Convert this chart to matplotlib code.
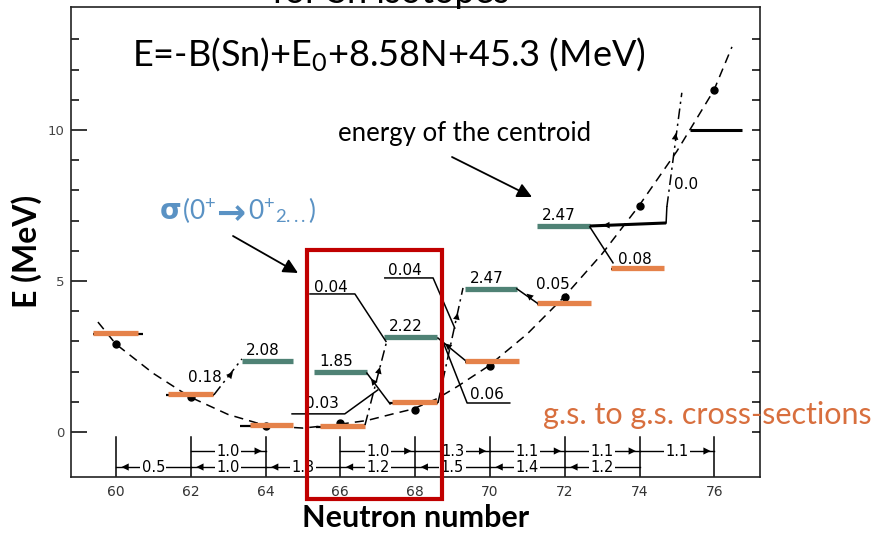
import matplotlib.pyplot as plt
from matplotlib.patches import Rectangle

W, H = 883, 536

# ground state levels (orange): left N, right N, energy (MeV)
gs_left = [59.39, 61.39, 63.58, 65.45, 67.38, 69.33, 71.26, 73.24]
gs_right = [60.59, 62.59, 64.73, 66.66, 68.58, 70.78, 72.70, 74.65]
gs_E = [3.28, 1.26, 0.23, 0.20, 0.99, 2.35, 4.27, 5.43]
gs_black_left = [59.39, 61.35, 63.32, 65.35, 67.30, 69.33, 71.26, 73.24]
gs_black_right = [60.72, 62.62, 64.73, 66.66, 68.61, 70.78, 72.70, 74.65]

# excited 0+ levels (green)
exc_left = [63.37, 65.29, 67.17, 69.33, 71.26]
exc_right = [64.73, 66.71, 68.58, 70.72, 72.67]
exc_E = [2.35, 1.99, 3.15, 4.74, 6.82]
exc_labels = ['2.08', '1.85', '2.22', '2.47', '2.47']

# cross-section labels
xs_labels = ['0.18', '0.04', '0.03', '0.04', '0.06', '0.05', '0.08', '0.0']
xs_N = [62.38, 65.75, 65.51, 67.73, 69.92, 71.68, 73.88, 75.24]
xs_E = [1.79, 4.80, 0.93, 5.36, 1.23, 4.87, 5.70, 8.21]

# solid connector lines
links = [
    ([65.19, 66.39, 67.22], [4.57, 4.57, 3.00]),
    ([64.71, 66.12, 67.00], [0.60, 0.60, 1.39]),
    ([67.19, 68.48, 69.06], [5.10, 5.10, 3.44]),
    ([68.72, 69.39, 70.53], [3.07, 0.96, 0.96]),
    ([70.72, 71.26], [4.74, 4.27]),
    ([72.67, 73.29], [6.79, 5.60]),
    ([66.71, 67.33], [1.95, 0.93]),
    ([68.61, 69.33], [3.11, 2.38]),
    ([74.71, 74.73], [6.92, 7.45]),
]
# thick black levels
thick = [([72.67, 74.71], [6.82, 6.92]), ([75.35, 76.74], [10.0, 10.0])]

# dash-dot transitions (start N, start E, end N, end E, arrow N, arrow E)
dd = [
    (62.62, 1.23, 63.37, 2.42, 63.13, 1.99),
    (66.66, 0.23, 67.25, 3.05, 67.06, 2.15),
    (68.61, 0.96, 69.28, 4.77, 69.14, 3.94),
    (74.73, 7.45, 75.13, 11.23, 74.97, 9.90),
]
# extra arrow heads on solid lines (from N, from E, tip N, tip E)
heads = [
    (67.33, 0.93, 66.82, 1.77),
    (69.33, 2.38, 68.80, 2.93),
    (71.26, 4.27, 70.98, 4.58),
    (74.71, 6.92, 73.02, 6.84),
]

# dashed curve and dots
curve_N = [59.52, 60.0, 61.0, 61.98, 63.0, 64.04, 65.0, 65.94, 66.71, 67.41, 67.94,
           68.58, 69.12, 69.97, 71.0, 71.98, 73.0, 73.98, 75.0, 75.99, 76.47]
curve_E = [3.64, 2.91, 1.94, 1.16, 0.58, 0.20, 0.13, 0.25, 0.38, 0.60, 0.76,
           1.10, 1.50, 2.19, 3.25, 4.47, 5.90, 7.48, 9.30, 11.32, 12.75]
dot_N = [60, 62, 64, 66, 68, 70, 72, 74, 76]
dot_E = [2.91, 1.16, 0.20, 0.30, 0.73, 2.19, 4.47, 7.48, 11.32]

# separation-energy rows at the bottom
hi_from = [62, 66, 68, 70, 72, 74]
hi_to = [64, 68, 70, 72, 74, 76]
hi_lab = ['1.0', '1.0', '1.3', '1.1', '1.1', '1.1']
lo_from = [62, 64, 66, 68, 70, 72, 74]
lo_to = [60, 62, 64, 66, 68, 70, 72]
lo_lab = ['0.5', '1.0', '1.3', '1.2', '1.5', '1.4', '1.2']
row_hi, row_lo = -0.63, -1.16

orange = '#e5824a'
orange_txt = '#d86f3e'
green = '#4f8275'
blue = '#5a92c4'

plt.rcParams['font.family'] = ['DejaVu Sans']
plt.rcParams['mathtext.fontset'] = 'custom'
plt.rcParams['mathtext.rm'] = 'Lato'
plt.rcParams['mathtext.it'] = 'Lato:italic'
plt.rcParams['mathtext.bf'] = 'Lato:bold'

fig = plt.figure(figsize=(W / 100, H / 100), dpi=100)
ax = fig.add_axes([71 / W, 1 - 477 / H, 689 / W, 470 / H])
ax.set_xlim(58.80, 77.22)
ax.set_ylim(-1.49, 14.07)

for s in ax.spines.values():
    s.set_linewidth(1.2)
    s.set_color('#222')
ax.set_xticks(range(60, 77, 2))
ax.tick_params(axis='x', length=0, pad=6, labelsize=10, labelcolor='#333')
ax.set_yticks([0, 5, 10])
ax.set_yticks(range(1, 14), minor=True)
ax.tick_params(axis='y', which='major', direction='in', length=11.5, width=1.1,
               pad=5, labelsize=9.5, labelcolor='#444')
ax.tick_params(axis='y', which='minor', direction='in', length=5.8, width=1.1)
ax2 = ax.twinx()
ax2.set_ylim(ax.get_ylim())
ax2.set_yticks(range(0, 14))
ax2.tick_params(direction='in', length=5.8, width=1.1, labelright=False)
for s in ax2.spines.values():
    s.set_visible(False)


def head(x0, y0, x1, y1, ms=12):
    ax.annotate('', xy=(x1, y1), xytext=(x0, y0),
                arrowprops=dict(arrowstyle='-|>', color='k', lw=0, mutation_scale=ms,
                                shrinkA=0, shrinkB=0))


# dashed curve
ax.plot(curve_N, curve_E, color='k', lw=1.1, ls=(0, (6, 4)))
ax.plot(dot_N, dot_E, 'o', color='k', ms=5)

# levels
for l, r, e in zip(gs_black_left, gs_black_right, gs_E):
    ax.plot([l, r], [e - 0.03, e - 0.03], color='k', lw=1.6, solid_capstyle='butt')
for l, r, e in zip(gs_left, gs_right, gs_E):
    ax.plot([l, r], [e, e], color=orange, lw=3.8, solid_capstyle='butt')
for l, r, e, lab in zip(exc_left, exc_right, exc_E, exc_labels):
    ax.plot([l, r], [e, e], color=green, lw=3.8, solid_capstyle='butt')
    ax.text((l + r) / 2 - 0.12, e + 0.1, lab, ha='center', va='bottom', fontsize=11)

for xs, ys in links:
    ax.plot(xs, ys, color='k', lw=1.1)
for xs, ys in thick:
    ax.plot(xs, ys, color='k', lw=2.2, solid_capstyle='butt')
for x0, y0, x1, y1, xa, ya in dd:
    ax.plot([x0, x1], [y0, y1], color='k', lw=1.1, ls=(0, (7, 3, 1.5, 3)))
    head(x0, y0, xa, ya)
for x0, y0, x1, y1 in heads:
    head(x0, y0, x1, y1)
for lab, x, y in zip(xs_labels, xs_N, xs_E):
    ax.text(x, y, lab, ha='center', va='center', fontsize=11)

# bottom rows
for n in range(60, 77, 2):
    ax.plot([n, n], [-1.49, -0.15], color='k', lw=1.1)
for a, b, lab in zip(hi_from, hi_to, hi_lab):
    ax.plot([a, b], [row_hi, row_hi], color='k', lw=1)
    ax.text((a + b) / 2, row_hi, lab, ha='center', va='center', fontsize=10.5,
            bbox=dict(fc='white', ec='none', pad=1))
    head(a, row_hi, b - 0.1, row_hi, ms=13)
for a, b, lab in zip(lo_from, lo_to, lo_lab):
    ax.plot([a, b], [row_lo, row_lo], color='k', lw=1)
    ax.text((a + b) / 2, row_lo, lab, ha='center', va='center', fontsize=10.5,
            bbox=dict(fc='white', ec='none', pad=1))
    head(a, row_lo, b + 0.15, row_lo, ms=13)


def fx(x):
    return x / W


def fy(y):
    return 1 - y / H


# overlaid annotations (positions in pixels of the slide)
fig.text(fx(272), fy(3), 'for Sn isotopes', fontsize=26, family='Lato', va='baseline')
fig.text(fx(389), fy(55), r'E=-B(Sn)+E$_0$+8.58N+45.3 (MeV)', fontsize=26, family='Lato',
         ha='center', va='center')
fig.text(fx(465), fy(133), 'energy of the centroid', fontsize=18.5, family='Lato',
         ha='center', va='center')
fig.text(fx(160), fy(219), 'σ', fontsize=20, weight='bold', color=blue, va='baseline')
fig.text(fx(182), fy(219), r'(0$^{+}$', fontsize=19, family='Lato', color=blue, va='baseline')
fig.text(fx(216), fy(224), '→', fontsize=25, weight='bold', color=blue, va='baseline')
fig.text(fx(248), fy(219), r'0$^{+}$$_{2...}$)', fontsize=19, family='Lato', color=blue,
         va='baseline')
fig.text(fx(707), fy(415), 'g.s. to g.s. cross-sections', fontsize=22, family='Lato',
         color=orange_txt, ha='center', va='center')
fig.text(fx(27), fy(251), 'E (MeV)', fontsize=23, family='Lato', weight='bold',
         rotation=90, ha='center', va='center')
fig.text(fx(416), fy(518), 'Neutron number', fontsize=22, family='Lato', weight='bold',
         ha='center', va='center')

for (x0, y0), (x1, y1) in [((452, 157), (532, 197)), ((233, 236), (298, 273))]:
    ax.annotate('', xy=(x1, H - y1), xytext=(x0, H - y0), xycoords='figure pixels',
                arrowprops=dict(arrowstyle='-|>', color='k', lw=1.3, mutation_scale=22,
                                shrinkA=0, shrinkB=0), annotation_clip=False)

fig.add_artist(Rectangle((fx(306.5), fy(498.5)), (441.5 - 306.5) / W, (498.5 - 249.5) / H,
                         transform=fig.transFigure, fill=False, ec='#c00000', lw=3))

fig.savefig('out.png', dpi=100)
